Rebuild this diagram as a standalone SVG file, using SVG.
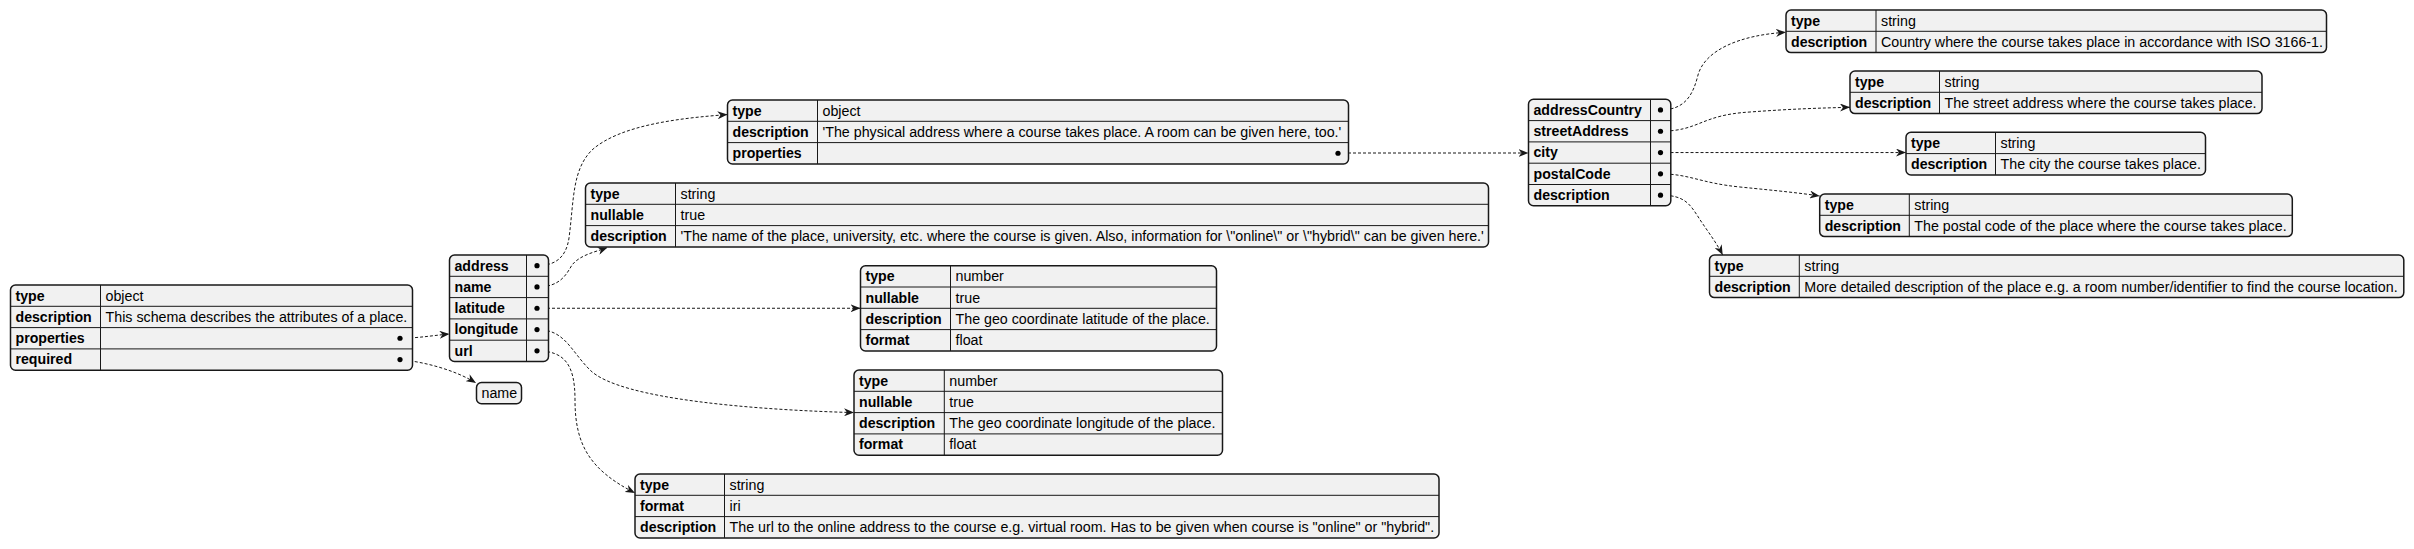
<svg xmlns="http://www.w3.org/2000/svg" width="2414" height="549" viewBox="0 0 2414 549">
<style>
.box{fill:#F1F1F1;stroke:#181818;stroke-width:1.5}
.sep{stroke:#181818;stroke-width:1}
.k{font-family:"Liberation Sans",Arial,sans-serif;font-size:14.15px;font-weight:bold;fill:#000}
.v{font-family:"Liberation Sans",Arial,sans-serif;font-size:14.25px;fill:#000}
.dot{fill:#000}
.e{fill:none;stroke:#181818;stroke-width:1;stroke-dasharray:3,2;marker-end:url(#ah)}
</style>
<defs>
<marker id="ah" viewBox="0 0 10 8" refX="10" refY="4" markerWidth="10" markerHeight="8" orient="auto" markerUnits="userSpaceOnUse"><path d="M0,0 L10,4 L0,8 L3,4 Z" fill="#181818"/></marker>
</defs>
<rect width="2414" height="549" fill="#FFFFFF"/>

<g id="connectors">
<path class="e" d="M400,338.25 C420,338 432,335.5 449.5,334"/>
<path class="e" d="M400,359.55 C425,362 455,370 476,383"/>
<path class="e" d="M537,265.65 C555,265.65 566,258 569,238 C574,200 572,170 592,150 C620,125 680,118 727.5,114.6"/>
<path class="e" d="M537,286.95 C560,287 566,275 572,265 C580,255 595,252 607.5,247.5"/>
<path class="e" d="M537,308.25 L860.5,308.25"/>
<path class="e" d="M537,329.55 C565,329.55 570,350 590,370 C620,400 760,410 854,412.6"/>
<path class="e" d="M537,350.85 C565,350.85 575,365 575,400 C575,445 590,470 635,493"/>
<path class="e" d="M1338,153 L1528.5,153"/>
<path class="e" d="M1660.5,109.95 C1685,110 1693,95 1698,75 C1705,50 1740,35 1786,32.3"/>
<path class="e" d="M1660.5,131.25 C1700,131 1700,115 1750,112 C1790,109 1820,108 1850,107.3"/>
<path class="e" d="M1660.5,152.55 L1906,152.55"/>
<path class="e" d="M1660.5,173.85 C1690,174 1700,183 1740,187 C1780,191 1800,193 1819.7,196"/>
<path class="e" d="M1660.5,195.15 C1685,195 1690,205 1697,215 C1705,228 1715,240 1722.7,255"/>
</g>

<g id="root">
<rect class="box" x="10.5" y="285" width="402" height="85.2" rx="5"/>
<line class="sep" x1="10.5" y1="306.3" x2="412.5" y2="306.3"/>
<line class="sep" x1="10.5" y1="327.6" x2="412.5" y2="327.6"/>
<line class="sep" x1="10.5" y1="348.9" x2="412.5" y2="348.9"/>
<line class="sep" x1="100.5" y1="285" x2="100.5" y2="370.2"/>
<text class="k" x="15.5" y="300.5">type</text><text class="v" x="105.5" y="300.5">object</text>
<text class="k" x="15.5" y="321.8">description</text><text class="v" x="105.5" y="321.8">This schema describes the attributes of a place.</text>
<text class="k" x="15.5" y="343.1">properties</text><circle class="dot" cx="400" cy="338.25" r="2.6"/>
<text class="k" x="15.5" y="364.4">required</text><circle class="dot" cx="400" cy="359.55" r="2.6"/>
</g>

<g id="properties">
<rect class="box" x="449.5" y="255" width="99" height="106.5" rx="5"/>
<line class="sep" x1="449.5" y1="276.3" x2="548.5" y2="276.3"/>
<line class="sep" x1="449.5" y1="297.6" x2="548.5" y2="297.6"/>
<line class="sep" x1="449.5" y1="318.9" x2="548.5" y2="318.9"/>
<line class="sep" x1="449.5" y1="340.2" x2="548.5" y2="340.2"/>
<line class="sep" x1="526.5" y1="255" x2="526.5" y2="361.5"/>
<text class="k" x="454.5" y="270.5">address</text><circle class="dot" cx="537" cy="265.65" r="2.6"/>
<text class="k" x="454.5" y="291.8">name</text><circle class="dot" cx="537" cy="286.95" r="2.6"/>
<text class="k" x="454.5" y="313.1">latitude</text><circle class="dot" cx="537" cy="308.25" r="2.6"/>
<text class="k" x="454.5" y="334.4">longitude</text><circle class="dot" cx="537" cy="329.55" r="2.6"/>
<text class="k" x="454.5" y="355.7">url</text><circle class="dot" cx="537" cy="350.85" r="2.6"/>
</g>

<g id="required">
<rect class="box" x="476.5" y="382.5" width="45" height="21.3" rx="5"/>
<text class="v" x="481.5" y="398">name</text>
</g>

<g id="address">
<rect class="box" x="727.5" y="100" width="621" height="63.9" rx="5"/>
<line class="sep" x1="727.5" y1="121.3" x2="1348.5" y2="121.3"/>
<line class="sep" x1="727.5" y1="142.6" x2="1348.5" y2="142.6"/>
<line class="sep" x1="817.5" y1="100" x2="817.5" y2="163.9"/>
<text class="k" x="732.5" y="115.5">type</text><text class="v" x="822.5" y="115.5">object</text>
<text class="k" x="732.5" y="136.8">description</text><text class="v" x="822.5" y="136.8">'The physical address where a course takes place. A room can be given here, too.'</text>
<text class="k" x="732.5" y="158.1">properties</text><circle class="dot" cx="1338" cy="153.25" r="2.6"/>
</g>

<g id="name">
<rect class="box" x="585.5" y="183" width="903" height="63.9" rx="5"/>
<line class="sep" x1="585.5" y1="204.3" x2="1488.5" y2="204.3"/>
<line class="sep" x1="585.5" y1="225.6" x2="1488.5" y2="225.6"/>
<line class="sep" x1="675.5" y1="183" x2="675.5" y2="246.9"/>
<text class="k" x="590.5" y="198.5">type</text><text class="v" x="680.5" y="198.5">string</text>
<text class="k" x="590.5" y="219.8">nullable</text><text class="v" x="680.5" y="219.8">true</text>
<text class="k" x="590.5" y="241.1">description</text><text class="v" x="680.5" y="241.1">'The name of the place, university, etc. where the course is given. Also, information for \"online\" or \"hybrid\" can be given here.'</text>
</g>

<g id="latitude">
<rect class="box" x="860.5" y="265.7" width="356" height="85.2" rx="5"/>
<line class="sep" x1="860.5" y1="287" x2="1216.5" y2="287"/>
<line class="sep" x1="860.5" y1="308.3" x2="1216.5" y2="308.3"/>
<line class="sep" x1="860.5" y1="329.6" x2="1216.5" y2="329.6"/>
<line class="sep" x1="950.5" y1="265.7" x2="950.5" y2="350.9"/>
<text class="k" x="865.5" y="281.2">type</text><text class="v" x="955.5" y="281.2">number</text>
<text class="k" x="865.5" y="302.5">nullable</text><text class="v" x="955.5" y="302.5">true</text>
<text class="k" x="865.5" y="323.8">description</text><text class="v" x="955.5" y="323.8">The geo coordinate latitude of the place.</text>
<text class="k" x="865.5" y="345.1">format</text><text class="v" x="955.5" y="345.1">float</text>
</g>

<g id="longitude">
<rect class="box" x="854" y="370" width="368.5" height="85.2" rx="5"/>
<line class="sep" x1="854" y1="391.3" x2="1222.5" y2="391.3"/>
<line class="sep" x1="854" y1="412.6" x2="1222.5" y2="412.6"/>
<line class="sep" x1="854" y1="433.9" x2="1222.5" y2="433.9"/>
<line class="sep" x1="944.3" y1="370" x2="944.3" y2="455.2"/>
<text class="k" x="859" y="385.5">type</text><text class="v" x="949.3" y="385.5">number</text>
<text class="k" x="859" y="406.8">nullable</text><text class="v" x="949.3" y="406.8">true</text>
<text class="k" x="859" y="428.1">description</text><text class="v" x="949.3" y="428.1">The geo coordinate longitude of the place.</text>
<text class="k" x="859" y="449.4">format</text><text class="v" x="949.3" y="449.4">float</text>
</g>

<g id="url">
<rect class="box" x="635" y="474" width="804" height="63.9" rx="5"/>
<line class="sep" x1="635" y1="495.3" x2="1439" y2="495.3"/>
<line class="sep" x1="635" y1="516.6" x2="1439" y2="516.6"/>
<line class="sep" x1="724.5" y1="474" x2="724.5" y2="537.9"/>
<text class="k" x="640" y="489.5">type</text><text class="v" x="729.5" y="489.5">string</text>
<text class="k" x="640" y="510.8">format</text><text class="v" x="729.5" y="510.8">iri</text>
<text class="k" x="640" y="532.1">description</text><text class="v" x="729.5" y="532.1">The url to the online address to the course e.g. virtual room. Has to be given when course is "online" or "hybrid".</text>
</g>

<g id="address-properties">
<rect class="box" x="1528.5" y="99.3" width="142.3" height="106.5" rx="5"/>
<line class="sep" x1="1528.5" y1="120.6" x2="1670.8" y2="120.6"/>
<line class="sep" x1="1528.5" y1="141.9" x2="1670.8" y2="141.9"/>
<line class="sep" x1="1528.5" y1="163.2" x2="1670.8" y2="163.2"/>
<line class="sep" x1="1528.5" y1="184.5" x2="1670.8" y2="184.5"/>
<line class="sep" x1="1650.5" y1="99.3" x2="1650.5" y2="205.8"/>
<text class="k" x="1533.5" y="114.8">addressCountry</text><circle class="dot" cx="1660.5" cy="109.95" r="2.6"/>
<text class="k" x="1533.5" y="136.1">streetAddress</text><circle class="dot" cx="1660.5" cy="131.25" r="2.6"/>
<text class="k" x="1533.5" y="157.4">city</text><circle class="dot" cx="1660.5" cy="152.55" r="2.6"/>
<text class="k" x="1533.5" y="178.7">postalCode</text><circle class="dot" cx="1660.5" cy="173.85" r="2.6"/>
<text class="k" x="1533.5" y="200">description</text><circle class="dot" cx="1660.5" cy="195.15" r="2.6"/>
</g>

<g id="addressCountry">
<rect class="box" x="1786" y="10" width="540.5" height="42.6" rx="5"/>
<line class="sep" x1="1786" y1="31.3" x2="2326.5" y2="31.3"/>
<line class="sep" x1="1876" y1="10" x2="1876" y2="52.6"/>
<text class="k" x="1791" y="25.5">type</text><text class="v" x="1881" y="25.5">string</text>
<text class="k" x="1791" y="46.8">description</text><text class="v" x="1881" y="46.8">Country where the course takes place in accordance with ISO 3166-1.</text>
</g>

<g id="streetAddress">
<rect class="box" x="1850" y="71" width="412" height="42.6" rx="5"/>
<line class="sep" x1="1850" y1="92.3" x2="2262" y2="92.3"/>
<line class="sep" x1="1939.5" y1="71" x2="1939.5" y2="113.6"/>
<text class="k" x="1855" y="86.5">type</text><text class="v" x="1944.5" y="86.5">string</text>
<text class="k" x="1855" y="107.8">description</text><text class="v" x="1944.5" y="107.8">The street address where the course takes place.</text>
</g>

<g id="city">
<rect class="box" x="1906" y="132.3" width="299.5" height="42.6" rx="5"/>
<line class="sep" x1="1906" y1="153.6" x2="2205.5" y2="153.6"/>
<line class="sep" x1="1995.5" y1="132.3" x2="1995.5" y2="174.9"/>
<text class="k" x="1911" y="147.8">type</text><text class="v" x="2000.5" y="147.8">string</text>
<text class="k" x="1911" y="169.1">description</text><text class="v" x="2000.5" y="169.1">The city the course takes place.</text>
</g>

<g id="postalCode">
<rect class="box" x="1819.7" y="194" width="472.6" height="42.6" rx="5"/>
<line class="sep" x1="1819.7" y1="215.3" x2="2292.3" y2="215.3"/>
<line class="sep" x1="1909.3" y1="194" x2="1909.3" y2="236.6"/>
<text class="k" x="1824.7" y="209.5">type</text><text class="v" x="1914.3" y="209.5">string</text>
<text class="k" x="1824.7" y="230.8">description</text><text class="v" x="1914.3" y="230.8">The postal code of the place where the course takes place.</text>
</g>

<g id="description">
<rect class="box" x="1709.5" y="255" width="694.3" height="42.6" rx="5"/>
<line class="sep" x1="1709.5" y1="276.3" x2="2403.8" y2="276.3"/>
<line class="sep" x1="1799.3" y1="255" x2="1799.3" y2="297.6"/>
<text class="k" x="1714.5" y="270.5">type</text><text class="v" x="1804.3" y="270.5">string</text>
<text class="k" x="1714.5" y="291.8">description</text><text class="v" x="1804.3" y="291.8">More detailed description of the place e.g. a room number/identifier to find the course location.</text>
</g>
</svg>
